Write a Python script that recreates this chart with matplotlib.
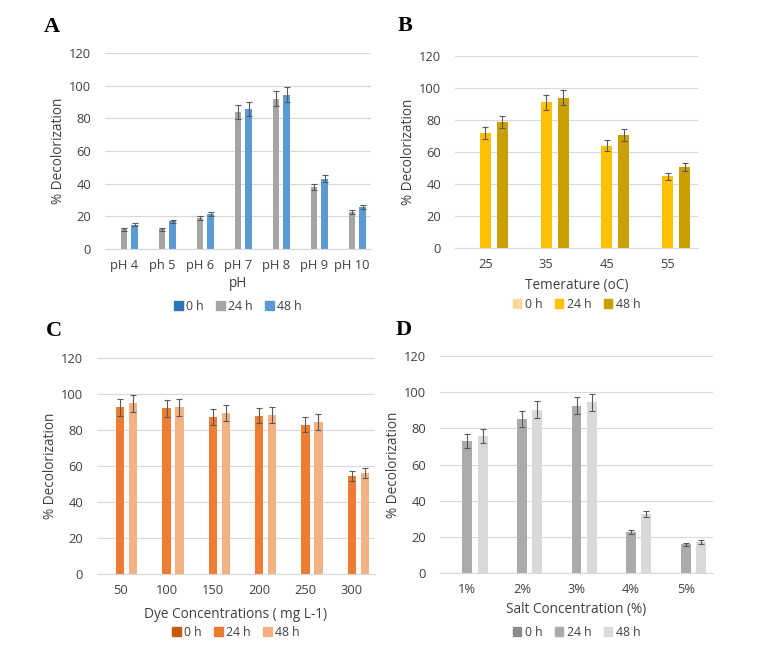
import matplotlib
matplotlib.use("Agg")
import matplotlib.pyplot as plt
from matplotlib.patches import Patch
import numpy as np

plt.rcParams['font.family'] = ['Open Sans', 'DejaVu Sans']

series_names = ["0 h", "24 h", "48 h"]

# A - pH
ph_labels = ["pH 4", "ph 5", "pH 6", "pH 7", "pH 8", "pH 9", "pH 10"]
ph_0h = [0, 0, 0, 0, 0, 0, 0]
ph_24h = [12, 12, 19, 84, 92, 38, 22.5]
ph_48h = [15, 17, 21.5, 86, 94.5, 43, 25.5]
ph_err24 = [0.7, 0.7, 1.0, 4.2, 4.6, 1.9, 1.2]
ph_err48 = [0.8, 0.9, 1.1, 4.3, 4.7, 2.2, 1.3]

# B - temperature
temp_labels = ["25", "35", "45", "55"]
temp_0h = [0, 0, 0, 0]
temp_24h = [72, 91, 64, 44.7]
temp_48h = [78.7, 94, 70.6, 50.7]
temp_err24 = [3.6, 4.6, 3.3, 2.2]
temp_err48 = [3.9, 4.8, 3.5, 2.6]

# C - dye concentration
dye_labels = ["50", "100", "150", "200", "250", "300"]
dye_0h = [0, 0, 0, 0, 0, 0]
dye_24h = [92.6, 92, 87.2, 88, 83, 54.4]
dye_48h = [94.8, 92.6, 89.4, 88.5, 84.4, 56]
dye_err24 = [4.7, 4.6, 4.4, 4.3, 4.2, 2.8]
dye_err48 = [4.8, 4.7, 4.5, 4.4, 4.4, 2.9]

# D - salt
salt_labels = ["1%", "2%", "3%", "4%", "5%"]
salt_0h = [0, 0, 0, 0, 0]
salt_24h = [72.9, 85.2, 92.5, 22.7, 15.9]
salt_48h = [76, 90.4, 94.3, 32.7, 17.2]
salt_err24 = [3.9, 4.3, 4.6, 1.2, 0.9]
salt_err48 = [3.9, 4.6, 4.9, 1.8, 1.0]

fig = plt.figure(figsize=(7.63, 6.53), dpi=100)
TXT = '#404040'


def panel(rect, labels, v0, v24, v48, e24, e48, colors, xlabel, letter, letter_pos, xlabel_y, leg_y):
    ax = fig.add_axes(rect)
    x = np.arange(len(labels))
    w = 0.18
    off = 0.28
    ax.bar(x - off, v0, w, color=colors[0], zorder=2)
    ax.bar(x, v24, w, color=colors[1], zorder=2)
    ax.bar(x + off, v48, w, color=colors[2], zorder=2)
    ax.errorbar(x, v24, yerr=e24, fmt='none', ecolor='#595959', elinewidth=0.8, capsize=2.3, capthick=0.8, zorder=3)
    ax.errorbar(x + off, v48, yerr=e48, fmt='none', ecolor='#595959', elinewidth=0.8, capsize=2.3, capthick=0.8, zorder=3)
    ax.set_xlim(-0.5, len(labels) - 0.5)
    ax.set_ylim(0, 120)
    ax.set_yticks(range(0, 121, 20))
    ax.set_xticks(x)
    ax.set_xticklabels(labels)
    ax.yaxis.grid(True, color='#d9d9d9', linewidth=0.8, zorder=0)
    ax.set_axisbelow(True)
    for s in ['top', 'right', 'left']:
        ax.spines[s].set_visible(False)
    ax.spines['bottom'].set_color('#d9d9d9')
    ax.spines['bottom'].set_linewidth(0.8)
    ax.tick_params(length=0, labelsize=9.3, colors=TXT)
    ax.tick_params(axis='y', pad=10)
    ax.tick_params(axis='x', pad=7)
    ax.set_ylabel("% Decolorization", fontsize=9.8, color=TXT, labelpad=2)
    pos = ax.get_position()
    cx = pos.x0 + pos.width / 2
    fig.text(cx, xlabel_y, xlabel, ha='center', va='center', fontsize=9.8, color=TXT)
    handles = [Patch(color=c) for c in colors]
    fig.legend(handles, series_names, loc='center', bbox_to_anchor=(cx, leg_y),
               ncol=3, frameon=False, fontsize=8.8, handlelength=0.7, handleheight=0.7,
               handletextpad=0.3, columnspacing=1.0, labelcolor=TXT)
    fig.text(letter_pos[0], letter_pos[1], letter, fontsize=16, fontweight='bold',
             family='Liberation Serif', ha='center', va='center')
    return ax


H = 653.0
W = 763.0

panel([105 / W, (H - 249) / H, 266 / W, 196 / H], ph_labels, ph_0h, ph_24h, ph_48h, ph_err24, ph_err48,
      ['#2e75b6', '#a5a5a5', '#5b9bd5'], "pH", "A", (52 / W, 1 - 27 / H), 1 - 284 / H, 1 - 306 / H)

panel([455 / W, (H - 248) / H, 243 / W, 192 / H], temp_labels, temp_0h, temp_24h, temp_48h, temp_err24, temp_err48,
      ['#fbd79e', '#ffc000', '#c9a000'], "Temerature (oC)", "B", (405 / W, 1 - 26 / H), 1 - 285 / H, 1 - 304 / H)

panel([97 / W, (H - 574) / H, 278 / W, 216 / H], dye_labels, dye_0h, dye_24h, dye_48h, dye_err24, dye_err48,
      ['#c55a11', '#ed7d31', '#f4b183'], "Dye Concentrations ( mg L-1)", "C", (54 / W, 1 - 331 / H), 1 - 614 / H, 1 - 632 / H)

panel([440 / W, (H - 573) / H, 273 / W, 217 / H], salt_labels, salt_0h, salt_24h, salt_48h, salt_err24, salt_err48,
      ['#8c8c8c', '#ababab', '#d9d9d9'], "Salt Concentration (%)", "D", (404 / W, 1 - 330 / H), 1 - 610 / H, 1 - 632 / H)

fig.savefig("out.png", dpi=100)
